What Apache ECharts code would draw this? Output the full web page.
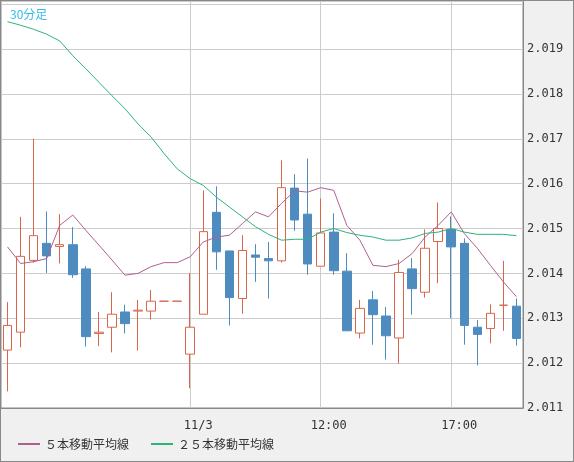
<!DOCTYPE html>
<html>
<head>
<meta charset="utf-8">
<script src="https://cdn.jsdelivr.net/npm/echarts@6/dist/echarts.min.js"></script>
<style>
html, body { margin: 0; padding: 0; background: #f0f0f0; }
#main { width: 572px; height: 460px; border: 1px solid #888; }
</style>
</head>
<body>
<div id="main"></div>
<script>
// 30分足 ローソク足 + 移動平均線
var categories = [];
for (var i = 0; i < 40; i++) categories.push(String(i));
var tickLabels = { 14: '11/3', 24: '12:00', 34: '17:00' };

// [open, close, low, high]
var ohlc = [
	[2.01229, 2.01284, 2.01137, 2.01336],
	[2.01269, 2.01438, 2.01235, 2.01526],
	[2.01429, 2.01484, 2.01424, 2.01700],
	[2.01467, 2.01439, 2.01401, 2.01538],
	[2.01460, 2.01464, 2.01422, 2.01532],
	[2.01464, 2.01397, 2.01390, 2.01503],
	[2.01410, 2.01259, 2.01237, 2.01416],
	[2.01266, 2.01269, 2.01238, 2.01314],
	[2.01280, 2.01309, 2.01224, 2.01358],
	[2.01314, 2.01288, 2.01266, 2.01330],
	[2.01316, 2.01318, 2.01228, 2.01341],
	[2.01316, 2.01338, 2.01297, 2.01363],
	[2.01338, 2.01338, 2.01338, 2.01338],
	[2.01338, 2.01338, 2.01338, 2.01338],
	[2.01220, 2.01280, 2.01144, 2.01401],
	[2.01309, 2.01493, 2.01309, 2.01585],
	[2.01536, 2.01448, 2.01408, 2.01594],
	[2.01450, 2.01346, 2.01284, 2.01450],
	[2.01344, 2.01451, 2.01310, 2.01485],
	[2.01441, 2.01436, 2.01381, 2.01465],
	[2.01433, 2.01428, 2.01344, 2.01470],
	[2.01428, 2.01591, 2.01424, 2.01652],
	[2.01590, 2.01519, 2.01495, 2.01621],
	[2.01532, 2.01421, 2.01397, 2.01656],
	[2.01416, 2.01490, 2.01416, 2.01567],
	[2.01492, 2.01406, 2.01397, 2.01534],
	[2.01405, 2.01272, 2.01272, 2.01445],
	[2.01267, 2.01322, 2.01255, 2.01341],
	[2.01341, 2.01308, 2.01241, 2.01361],
	[2.01305, 2.01261, 2.01208, 2.01325],
	[2.01256, 2.01402, 2.01199, 2.01430],
	[2.01410, 2.01366, 2.01308, 2.01434],
	[2.01358, 2.01456, 2.01346, 2.01498],
	[2.01471, 2.01500, 2.01378, 2.01558],
	[2.01498, 2.01459, 2.01300, 2.01527],
	[2.01467, 2.01284, 2.01241, 2.01478],
	[2.01280, 2.01264, 2.01195, 2.01296],
	[2.01277, 2.01311, 2.01244, 2.01331],
	[2.01329, 2.01329, 2.01272, 2.01428],
	[2.01327, 2.01255, 2.01239, 2.01344]
];

var ma5 = [
	2.01459, 2.01422, 2.01426, 2.01433, 2.01507, 2.01530, 2.01496, 2.01463, 2.01430, 2.01396,
	2.01400, 2.01415, 2.01424, 2.01424, 2.01437, 2.01470, 2.01481, 2.01485, 2.01511, 2.01537,
	2.01526, 2.01556, 2.01584, 2.01581, 2.01591, 2.01585, 2.01507, 2.01474, 2.01418, 2.01415,
	2.01422, 2.01444, 2.01481, 2.01507, 2.01537, 2.01489, 2.01456, 2.01418, 2.01381, 2.01348
];

var ma25 = [
	2.01961, 2.01953, 2.01944, 2.01933, 2.01918, 2.01885, 2.01856, 2.01826, 2.01796, 2.01767,
	2.01733, 2.01704, 2.01667, 2.01633, 2.01611, 2.01596, 2.01570, 2.01548, 2.01526, 2.01504,
	2.01487, 2.01474, 2.01476, 2.01476, 2.01492, 2.01500, 2.01491, 2.01485, 2.01481, 2.01474,
	2.01474, 2.01479, 2.01489, 2.01492, 2.01500, 2.01492, 2.01487, 2.01487, 2.01487, 2.01484
];

var chart = echarts.init(document.getElementById('main'));

var option = {
	animation: false,
	title: {
		text: '30分足',
		left: 4,
		top: 2,
		textStyle: { color: '#33bbee', fontSize: 12, fontWeight: 'normal', fontFamily: 'Noto Sans CJK JP' }
	},
	//凡例
	legend: {
		left: 12,
		bottom: 6,
		itemWidth: 22,
		itemHeight: 2,
		itemGap: 22,
		icon: 'rect',
		textStyle: { color: '#333', fontSize: 12, fontFamily: 'Noto Sans CJK JP' },
		data: ['５本移動平均線', '２５本移動平均線']
	},
	grid: {
		left: 0,
		right: 50,
		top: 0,
		bottom: 53,
		show: true,
		backgroundColor: '#fff',
		borderColor: '#888',
		borderWidth: 1
	},
	xAxis: {
		type: 'category',
		data: categories,
		boundaryGap: true,
		axisLine: { lineStyle: { color: '#888' } },
		axisTick: { show: false },
		splitLine: { show: false },
		axisLabel: {
			interval: 0,
			color: '#333',
			fontSize: 12,
			fontFamily: 'DejaVu Sans Mono',
			margin: 12,
			padding: [0, 0, 0, 16],
			formatter: function (v, idx) { return tickLabels[idx] || ''; }
		}
	},
	yAxis: {
		type: 'value',
		position: 'right',
		min: 2.011,
		max: 2.02007,
		interval: 0.001,
		axisLine: { show: true, lineStyle: { color: '#888' } },
		axisTick: { show: false },
		splitLine: { lineStyle: { color: '#ccc' } },
		axisLabel: {
			color: '#333',
			fontSize: 12,
			fontFamily: 'DejaVu Sans Mono',
			margin: 4,
			formatter: function (v) { return v >= 2.0195 ? '' : v.toFixed(3); }
		}
	},
	series: [
		{
			type: 'candlestick',
			data: ohlc,
			barWidth: 9,
			itemStyle: {
				color: '#fff',
				borderColor: '#d9664a',
				color0: '#4e8cc0',
				borderColor0: '#4e8cc0',
				borderWidth: 1
			},
			markLine: {
				silent: true,
				symbol: 'none',
				label: { show: false },
				lineStyle: { color: '#ccc', type: 'solid', width: 1 },
				z: 0,
				data: [{ xAxis: '14' }, { xAxis: '24' }, { xAxis: '34' }]
			}
		},
		{
			name: '５本移動平均線',
			type: 'line',
			data: ma5,
			symbol: 'none',
			lineStyle: { color: '#b06090', width: 1 },
			itemStyle: { color: '#b06090' }
		},
		{
			name: '２５本移動平均線',
			type: 'line',
			data: ma25,
			symbol: 'none',
			lineStyle: { color: '#2db37a', width: 1 },
			itemStyle: { color: '#2db37a' }
		}
	]
};

chart.setOption(option);
</script>
</body>
</html>
